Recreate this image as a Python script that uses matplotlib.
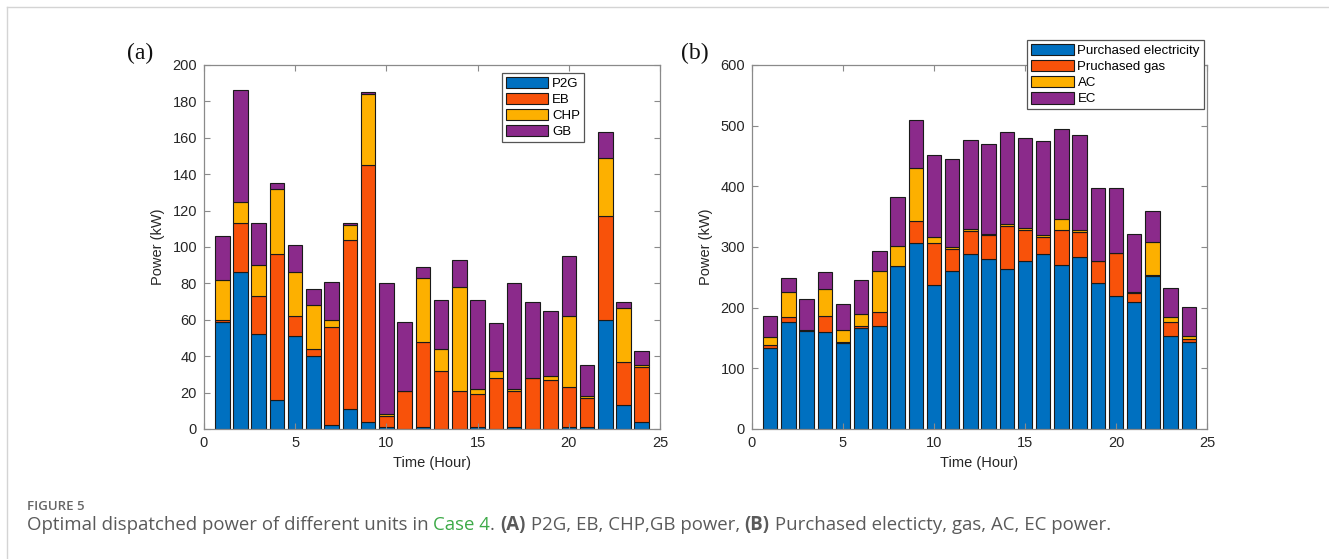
import numpy as np
import matplotlib
matplotlib.use('Agg')
import matplotlib.pyplot as plt
from matplotlib.lines import Line2D

# Hourly dispatch, panel (a): P2G, EB, CHP, GB power (kW)
hours = np.arange(1, 25)
p2g = [59, 86, 52, 16, 51, 40, 2, 11, 4, 1, 0, 1,
       0, 0, 1, 0, 1, 0, 0, 1, 1, 60, 13, 4]
eb = [1, 27, 21, 80, 11, 4, 54, 93, 141, 6, 21, 47,
      32, 21, 18, 28, 20, 28, 27, 22, 16, 57, 24, 30]
chp = [22, 12, 17, 36, 24, 24, 4, 8, 39, 1, 0, 35,
       12, 57, 3, 4, 1, 0, 2, 39, 1, 32, 29.5, 1]
gb = [24, 61, 23, 3, 15, 9, 21, 1, 1, 72, 38, 6,
      27, 15, 49, 26, 58, 42, 36, 33, 17, 14, 3.5, 8]

# Panel (b): purchased electricity, purchased gas, AC, EC power (kW)
elec = [134, 177, 162, 160, 141, 166, 169, 268, 307, 237, 261, 288,
        280, 263, 277, 288, 271, 283, 240, 219, 209, 253, 153, 143]
gas = [4, 8, 2, 27, 2, 4, 24, 0, 36, 70, 35, 39,
       40, 71, 51, 28, 57, 42, 37, 71, 16, 1, 23, 6]
ac = [14, 41, 0, 43, 21, 19, 67, 33, 87, 9, 4, 3,
      1, 4, 4, 3, 18, 3, 0, 0, 1, 55, 8, 4]
ec = [35, 23, 50, 28, 42, 56, 34, 81, 80, 136, 145, 147,
      149, 151, 148, 155, 149, 156, 121, 107, 95, 51, 48, 48]

labels_a = ['P2G', 'EB', 'CHP', 'GB']
labels_b = ['Purchased electricity', 'Pruchased gas', 'AC', 'EC']
colors = ['#0070C0', '#F8520A', '#FDB000', '#8B2A8B']

plt.rcParams['font.family'] = ['Liberation Sans', 'DejaVu Sans']

W, H = 1329, 559
fig = plt.figure(figsize=(W / 100, H / 100), dpi=100)


def stacked(ax, series, labels, ymax, ystep, legend_anchor):
    bottom = np.zeros(len(hours))
    for vals, lab, col in zip(series, labels, colors):
        vals = np.asarray(vals, dtype=float)
        ax.bar(hours, vals, width=0.8, bottom=bottom, color=col,
               edgecolor='#1a1a1a', linewidth=0.8, label=lab)
        bottom += vals
    ax.set_xlim(0, 25)
    ax.set_ylim(0, ymax)
    ax.set_xticks(np.arange(0, 26, 5))
    ax.set_yticks(np.arange(0, ymax + 1, ystep))
    for s in ax.spines.values():
        s.set_color('#8a8a8a')
        s.set_linewidth(0.9)
    ax.tick_params(direction='in', length=4, width=0.8, color='#8a8a8a',
                   labelcolor='#262626', labelsize=10.5, top=True, right=True,
                   pad=5)
    ax.set_xlabel('Time (Hour)', fontsize=10.5, color='#262626', labelpad=4)
    ax.set_ylabel('Power (kW)', fontsize=10.5, color='#262626', labelpad=5)
    leg = ax.legend(loc='upper right', bbox_to_anchor=legend_anchor,
                    fontsize=9.5, handlelength=3.2, handleheight=0.95,
                    handletextpad=0.3, labelspacing=0.22, borderpad=0.3,
                    borderaxespad=0, fancybox=False, framealpha=1)
    leg.get_frame().set_edgecolor('#555555')
    leg.get_frame().set_linewidth(0.9)
    leg.set_zorder(5)
    return ax


ax1 = fig.add_axes([204 / W, 1 - 429 / H, 456 / W, 364 / H])
stacked(ax1, [p2g, eb, chp, gb], labels_a, 200, 20, (0.833, 0.979))

ax2 = fig.add_axes([752 / W, 1 - 429 / H, 455 / W, 364 / H])
stacked(ax2, [elec, gas, ac, ec], labels_b, 600, 100, (0.993, 1.069))

# panel tags
fig.text(140 / W, 1 - 53 / H, '(a)', fontsize=17, family='Liberation Serif',
         ha='center', va='center', color='#111111')
fig.text(695 / W, 1 - 53 / H, '(b)', fontsize=17, family='Liberation Serif',
         ha='center', va='center', color='#111111')

# card border on top and left
fig.add_artist(Line2D([7 / W, 1], [1 - 7 / H, 1 - 7 / H], color='#d4d4d4',
                      linewidth=1.0, transform=fig.transFigure))
fig.add_artist(Line2D([7 / W, 7 / W], [0, 1 - 7 / H], color='#d4d4d4',
                      linewidth=1.0, transform=fig.transFigure))

# caption
fig.text(27 / W, 1 - 506 / H, 'FIGURE 5', fontsize=9.5, family='Open Sans',
         weight='semibold', color='#666666', va='center')

pieces = [
    ('Optimal dispatched power of different units in ', '#5a5a5a', 'normal'),
    ('Case 4', '#3daa48', 'normal'),
    ('. ', '#5a5a5a', 'normal'),
    ('(A)', '#5a5a5a', 'bold'),
    (' P2G, EB, CHP,GB power, ', '#5a5a5a', 'normal'),
    ('(B)', '#5a5a5a', 'bold'),
    (' Purchased electicty, gas, AC, EC power.', '#5a5a5a', 'normal'),
]
renderer = fig.canvas.get_renderer()
x = 27
for txt, col, wt in pieces:
    t = fig.text(x / W, 1 - 525 / H, txt, fontsize=13.4, family='Open Sans',
                 weight=wt, color=col, va='center')
    x += t.get_window_extent(renderer).width

fig.savefig('out.png', dpi=100)
